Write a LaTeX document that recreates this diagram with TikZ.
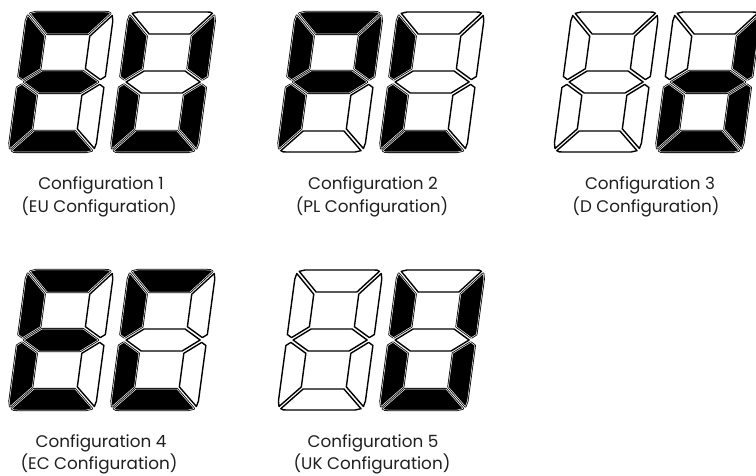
\documentclass[tikz,border=0pt]{standalone}
\usepackage{fontspec}
\setmainfont{Poppins}
\newfontfamily\capfont{Poppins}
\begin{document}
\begin{tikzpicture}[x=1pt,y=-1pt,
  segoff/.style={draw=black, fill=white, line width=1.4pt, line join=round},
  segon/.style={fill=black, draw=black, double=white, double distance=0.5pt, line width=0.8pt, line join=round},
  captxt/.style={font=\capfont\fontsize{16.8}{20}\selectfont, text=black!88, inner sep=0pt, anchor=base}]
\newcommand{\lcd}[8]{%
\begin{scope}[shift={#1}, xslant=0.134]
 % a
 \path[#2] (23.1,22) -- (3.42,1.35) .. controls (5.54,0) .. (9,0) -- (78,0) .. controls (81.46,0) .. (83.58,1.35) -- (63.9,22) -- cycle;
 % b
 \path[#3] (66,24.2) -- (85.73,3.51) .. controls (87,5.63) .. (87,9) -- (87,64.5) -- (82.4,67.6) -- (66,56.7) -- cycle;
 % c
 \path[#4] (66,83.3) -- (82.4,72.4) -- (87,75.5) -- (87,131) .. controls (87,134.4) .. (85.7,136.5) -- (66,116.9) -- cycle;
 % d
 \path[#5] (23.1,119) -- (3.42,138.65) .. controls (5.54,140) .. (9,140) -- (78,140) .. controls (81.46,140) .. (83.58,138.65) -- (63.9,119) -- cycle;
 % e
 \path[#6] (21,83.3) -- (4.6,72.4) -- (0,75.5) -- (0,131) .. controls (0,134.4) .. (1.3,136.5) -- (21,116.9) -- cycle;
 % f
 \path[#7] (21,24.2) -- (1.27,3.51) .. controls (0,5.63) .. (0,9) -- (0,64.5) -- (4.6,67.6) -- (21,56.7) -- cycle;
 % g
 \path[#8] (6.5,70) -- (23,59) -- (64,59) -- (80.5,70) -- (64,81) -- (23,81) -- cycle;
\end{scope}}
\useasboundingbox (0,0) rectangle (756,476);
\clip (0,0) rectangle (756,476);
% Configuration 1: E U
\lcd{(27,12)}{segon}{segoff}{segoff}{segon}{segon}{segon}{segon}
\lcd{(129,12)}{segoff}{segon}{segon}{segon}{segon}{segon}{segoff}
% Configuration 2: P L
\lcd{(296,12)}{segon}{segon}{segoff}{segoff}{segon}{segon}{segon}
\lcd{(398,12)}{segoff}{segoff}{segoff}{segon}{segon}{segon}{segoff}
% Configuration 3: blank d
\lcd{(572,12)}{segoff}{segoff}{segoff}{segoff}{segoff}{segoff}{segoff}
\lcd{(674,12)}{segoff}{segon}{segon}{segon}{segon}{segoff}{segon}
% Configuration 4: E C
\lcd{(27,270)}{segon}{segoff}{segoff}{segon}{segon}{segon}{segon}
\lcd{(129,270)}{segon}{segoff}{segoff}{segon}{segon}{segon}{segoff}
% Configuration 5: blank U
\lcd{(296,270)}{segoff}{segoff}{segoff}{segoff}{segoff}{segoff}{segoff}
\lcd{(398,270)}{segoff}{segon}{segon}{segon}{segon}{segon}{segoff}
% captions
\node[captxt] (c1a) at (101,190) {Configuration 1};
\node[captxt] (c1b) at (99,213) {(EU Configuration)};
\node[captxt] (c2a) at (373,190) {Configuration 2};
\node[captxt] (c2b) at (372,213) {(PL Configuration)};
\node[captxt] (c3a) at (650,190) {Configuration 3};
\node[captxt] (c3b) at (646,213) {(D Configuration)};
\node[captxt] (c4a) at (101,447) {Configuration 4};
\node[captxt] (c4b) at (99,469.5) {(EC Configuration)};
\node[captxt] (c5a) at (373,447) {Configuration 5};
\node[captxt] (c5b) at (372,469.5) {(UK Configuration)};
\end{tikzpicture}
\end{document}
